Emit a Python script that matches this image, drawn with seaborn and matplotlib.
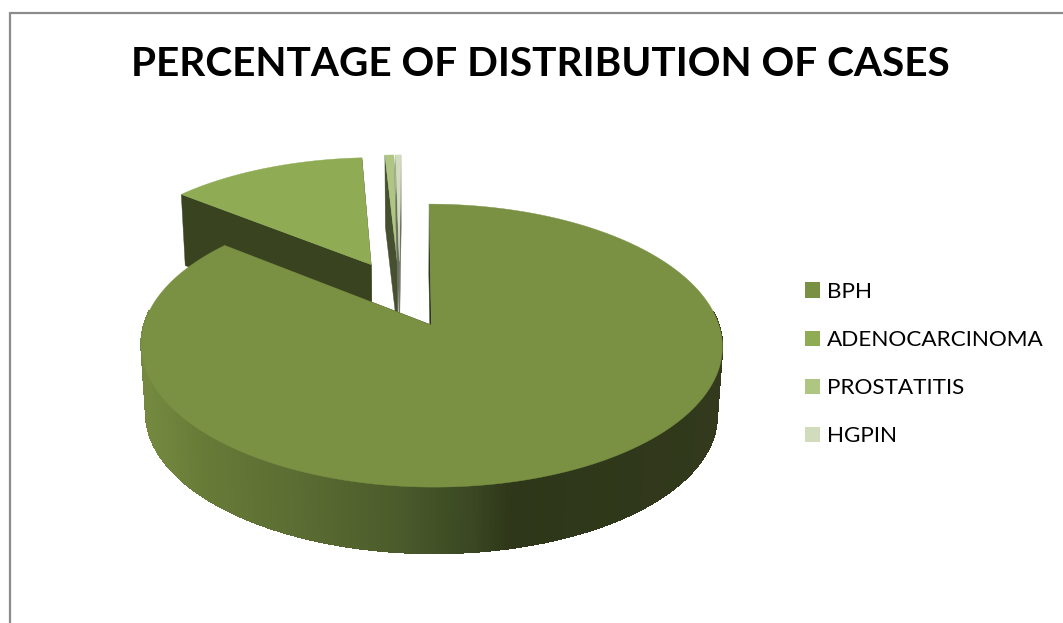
import numpy as np
import matplotlib
matplotlib.use("Agg")
import matplotlib.pyplot as plt
from matplotlib.collections import PolyCollection
from matplotlib.colors import LinearSegmentedColormap
from matplotlib.patches import Patch
import seaborn as sns

# Share of cases per diagnosis (percent)
categories = ["BPH", "ADENOCARCINOMA", "PROSTATITIS", "HGPIN"]
percentages = [85.8, 13.24, 0.6, 0.36]
title = "PERCENTAGE OF DISTRIBUTION OF CASES"

top_colors = ["#7a9144", "#8fac55", "#afc682", "#d0dcbc"]
cut_colors = ["#2f3719", "#3a431f", "#465030", "#6a6f60"]

sns.set_theme(style="white")
plt.rcParams["font.family"] = ["Lato", "DejaVu Sans"]

# Perspective camera: the disc lies in a plane that recedes with y
PX_W, PX_H = 1063, 623
CAM_X, CAM_Y = 413.5, 325.0
SCALE_X, SCALE_Y = 287.5, 138.5
RECEDE = 0.145
BASE_DROP, BASE_SHRINK = 69.0, 0.983
PIE_CENTRE = np.array([-0.05, 0.234])
EXPLODE = 0.26
SIDE_SHIFT = [0.0, 0.012, 0.0, 0.0]


def project(x, y, base=False):
    """Map disc coordinates to the canvas, on the top face or the base."""
    w = 1 + RECEDE * np.asarray(y)
    s = BASE_SHRINK if base else 1.0
    drop = BASE_DROP if base else 0.0
    return np.column_stack([CAM_X + s * SCALE_X * np.asarray(x) / w,
                            CAM_Y + drop - s * SCALE_Y * np.asarray(y) / w])


wall_cmap = LinearSegmentedColormap.from_list(
    "wall",
    [(0.0, "#74893f"), (0.094, "#677b38"), (0.269, "#5a6c32"),
     (0.444, "#4a5a2b"), (0.566, "#3a4722"), (0.636, "#2e3719"), (1.0, "#32391c")],
)


def wall_colour(px):
    return wall_cmap(np.clip((px - 146) / (723 - 146), 0, 1))


fig = plt.figure(figsize=(PX_W / 100, PX_H / 100), dpi=100)
ax = fig.add_axes([0, 0, 1, 1])
ax.set_xlim(0, PX_W)
ax.set_ylim(PX_H, 0)
ax.axis("off")

# Chart frame
frame = "#8c8c8c"
ax.plot([10, 10], [12, PX_H], color=frame, lw=1.6, solid_capstyle="butt")
ax.plot([10, PX_W], [13, 13], color=frame, lw=1.6, solid_capstyle="butt")

bounds = np.cumsum([0] + percentages) / sum(percentages) * 360
paint_rank = {1: 0, 2: 1, 3: 2, 0: 3}  # slices further back are painted first


def draw_slice(i):
    start, stop = bounds[i], bounds[i + 1]
    mid = np.radians((start + stop) / 2)
    apex = PIE_CENTRE + EXPLODE * np.array([np.sin(mid), np.cos(mid)])
    apex[0] += SIDE_SHIFT[i]
    theta = np.radians(np.linspace(start, stop, max(4, int((stop - start) * 4))))
    rim_x, rim_y = apex[0] + np.sin(theta), apex[1] + np.cos(theta)

    top_rim = project(rim_x, rim_y)
    base_rim = project(rim_x, rim_y, base=True)
    top_apex = project([apex[0]], [apex[1]])[0]
    base_apex = project([apex[0]], [apex[1]], base=True)[0]
    z = 3 * paint_rank[i]

    # Radial cut faces
    for t, b in ((top_rim[0], base_rim[0]), (top_rim[-1], base_rim[-1])):
        ax.fill([top_apex[0], t[0], b[0], base_apex[0]],
                [top_apex[1], t[1], b[1], base_apex[1]],
                color=cut_colors[i], lw=0.3, zorder=2 + z)

    # Curved outer wall, only where it faces the viewer, shaded across the width
    quads = [[top_rim[j], top_rim[j + 1], base_rim[j + 1], base_rim[j]]
             for j in range(len(theta) - 1) if np.cos(theta[j]) < 0.1]
    shades = [wall_colour(q[0][0]) for q in quads]
    ax.add_collection(PolyCollection(quads, facecolors=shades, edgecolors=shades,
                                     linewidths=0.6, antialiaseds=False, zorder=3 + z))

    # Top face
    face = np.vstack([top_apex, top_rim])
    ax.fill(face[:, 0], face[:, 1], color=top_colors[i], lw=0.3, zorder=4 + z)


for idx in range(len(categories)):
    draw_slice(idx)

ax.text(540.5, 64, title, ha="center", va="center", fontsize=29.2,
        fontweight="bold", color="black")

handles = [Patch(facecolor=c, edgecolor="none") for c in top_colors]
ax.legend(handles, categories, loc="upper left",
          bbox_to_anchor=(796 / PX_W, 1 - 273 / PX_H), bbox_transform=fig.transFigure,
          frameon=False, fontsize=16.2, labelcolor="#000000",
          handlelength=0.67, handleheight=0.67, handletextpad=0.30,
          labelspacing=1.25, borderpad=0.4, borderaxespad=0)

fig.savefig("out.png", dpi=100, facecolor="white")
